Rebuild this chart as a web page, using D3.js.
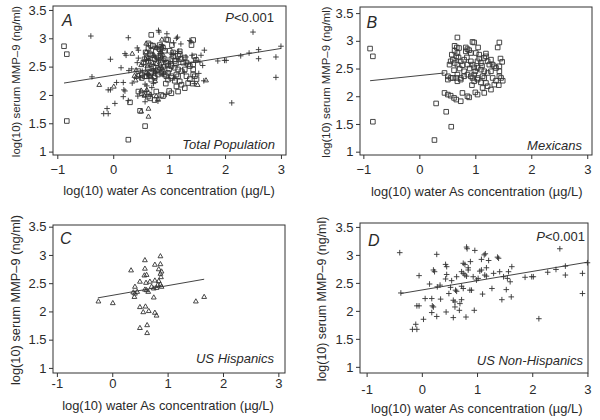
<!DOCTYPE html>
<html>
<head>
<meta charset="utf-8">
<script src="https://cdn.jsdelivr.net/npm/d3@7"></script>
<style>
  body { margin: 0; background: #fff; }
  text { font-family: "Liberation Sans", Arial, sans-serif; fill: #2a2a2a; }
</style>
</head>
<body>
<svg id="chart" width="600" height="420"></svg>
<script>
// values: [log10 water As, log10 serum MMP-9]
const mexicans = [
  [-0.88,2.86],[-0.83,2.72],[-0.83,1.54],[0.27,1.21],[0.30,1.87],[0.48,1.72],[0.57,1.45],
  [0.68,3.06],[0.95,2.98],[0.98,2.97],[1.43,2.97],[1.40,2.88],
  [0.63,2.91],[0.67,2.88],[0.71,2.87],[0.63,2.82],[0.68,2.78],[0.58,2.75],[0.66,2.72],[0.60,2.66],
  [0.83,2.88],[0.86,2.85],[0.83,2.81],[0.92,2.78],[0.89,2.83],
  [1.01,2.78],[1.07,2.75],[1.19,2.77],[1.19,2.72],[1.16,2.69],[1.07,2.68],[1.04,2.63],[1.10,2.60],
  [1.22,2.63],[1.25,2.57],[1.31,2.57],[1.34,2.54],[1.37,2.51],
  [0.54,2.57],[0.56,2.63],[0.63,2.60],[0.68,2.57],[0.74,2.63],[0.77,2.56],[0.80,2.66],[0.86,2.57],
  [0.92,2.63],[0.95,2.57],[0.98,2.52],[1.04,2.51],[1.10,2.48],[1.16,2.45],[1.22,2.42],[1.28,2.45],
  [0.45,2.42],[0.51,2.36],[0.56,2.33],[0.68,2.39],[0.74,2.33],[0.80,2.45],[0.86,2.39],[0.92,2.36],
  [0.98,2.39],[1.04,2.33],[1.13,2.36],[1.43,2.45],[1.31,2.33],[1.46,2.33],[1.43,2.54],
  [0.51,2.30],[0.60,2.33],[0.66,2.33],[0.68,2.27],[0.74,2.30],[0.80,2.36],[0.95,2.33],[0.98,2.27],
  [1.04,2.30],[1.10,2.25],[1.16,2.33],[1.19,2.24],[1.22,2.18],[1.28,2.12],[1.34,2.21],[1.37,2.28],
  [1.43,2.36],[1.49,2.28],[1.13,2.15],[1.16,2.06],
  [0.45,2.06],[0.51,2.03],[0.56,2.01],[0.62,1.97],[0.66,1.94],[0.74,1.91],[0.77,2.06],[0.89,1.98],
  [0.86,2.00],[1.00,2.07],[1.04,2.03],
  [0.90,2.50],[1.00,2.45],[0.85,2.70],[1.12,2.55],[0.72,2.50],[1.05,2.88],[1.45,2.68],[1.48,2.62],
  [1.42,2.20],[0.94,2.20],[0.70,2.70],[1.28,2.66],[0.62,2.47]
];
const usHispanics = [
  [-0.25,2.18],[0.01,2.15],[0.34,2.73],[0.59,2.91],[0.87,2.98],[0.59,2.76],[0.58,2.64],[0.62,2.65],
  [0.77,2.83],[0.87,2.84],[0.84,2.75],[0.89,2.71],[0.87,2.67],[0.88,2.61],[0.84,2.54],[0.87,2.48],
  [0.82,2.47],[0.89,2.44],[0.50,2.53],[0.61,2.51],[0.68,2.53],[0.77,2.55],[0.41,2.44],[0.38,2.34],
  [0.41,2.32],[0.45,2.35],[0.59,2.39],[0.62,2.38],[0.65,2.35],[0.75,2.41],[0.71,2.44],[0.80,2.42],
  [0.40,2.26],[0.75,2.25],[0.50,2.08],[0.60,2.09],[0.56,1.99],[0.66,2.01],[0.77,1.98],[0.80,1.93],
  [0.50,1.71],[0.63,1.76],[0.63,1.62],[1.51,2.18],[1.66,2.26]
];
const usNonHispanics = [
  [-0.40,3.04],[-0.38,2.32],[-0.05,2.63],[-0.09,2.09],[-0.05,2.09],[-0.11,1.76],[-0.17,1.67],
  [-0.09,1.67],[0.03,1.85],[0.06,2.22],[0.14,2.48],[0.18,2.22],[0.19,2.09],[0.21,2.07],[0.18,1.97],
  [0.27,1.90],[0.21,2.73],[0.23,2.70],[0.27,3.01],[0.28,2.43],[0.33,2.46],[0.34,2.21],[0.43,2.57],
  [0.45,2.65],[0.43,2.83],[0.45,2.79],[0.44,1.98],[0.49,2.31],[0.52,2.42],[0.54,2.54],[0.57,1.88],
  [0.57,2.19],[0.60,2.16],[0.60,2.07],[0.63,2.61],[0.61,2.37],[0.63,2.35],[0.68,2.01],[0.69,2.13],
  [0.72,2.20],[0.72,2.70],[0.75,2.67],[0.75,2.85],[0.78,2.83],[0.72,2.44],[0.75,2.40],[0.78,2.64],
  [0.81,2.62],[0.80,1.89],[0.81,3.14],[0.82,3.11],[0.84,2.73],[0.84,2.77],[0.87,2.37],[0.90,2.37],
  [0.88,2.88],[0.95,2.01],[0.93,2.61],[0.96,3.08],[0.99,2.55],[1.02,2.58],[1.05,2.71],[1.08,2.73],
  [1.08,2.92],[1.13,3.00],[1.15,3.02],[1.14,2.64],[1.17,2.62],[1.17,2.77],[1.21,2.90],[1.27,2.40],
  [1.10,2.30],[1.30,2.67],[1.37,2.96],[1.39,2.94],[1.41,2.70],[1.48,2.61],[1.55,2.58],[1.53,2.38],
  [1.45,2.20],[1.57,2.70],[1.62,2.25],[1.63,2.79],[1.60,2.52],[1.87,2.60],[1.99,2.61],[2.02,2.61],
  [2.12,1.86],[2.28,2.69],[2.43,2.74],[2.50,3.11],[2.60,2.80],[2.60,2.64],[2.91,2.67],[2.91,2.31],
  [3.00,2.86]
];

// fitted regression lines, end points
const fitA = [[-0.88,2.21],[3.00,2.82]];
const fitB = [[-0.88,2.28],[0.45,2.42]];
const fitC = [[-0.26,2.24],[1.66,2.57]];
const fitD = [[-0.38,2.31],[3.00,2.87]];

const xTicks = [-1, 0, 1, 2, 3];
const xTickLabelsTop = ["\u22121", "0", "1", "2", "3"];
const xTickLabelsBottom = ["-1", "0", "1", "2", "3"];
const yTicks = [1, 1.5, 2, 2.5, 3, 3.5];
const yTickLabels = ["1", "1.5", "2", "2.5", "3", "3.5"];

const xTitle = "log(10) water As concentration (\u00b5g/L)";
const yTitle = "log(10) serum MMP\u20139 (ng/ml)";

const svg = d3.select("#chart");

// marker shapes, drawn round (0,0)
const markerPath = {
  square: "M-2.3,-2.3h4.6v4.6h-4.6z",
  triangle: "M0,-2.5L2.4,1.7H-2.4Z",
  plus: "M-2.8,0H2.8M0,-2.8V2.8"
};

const panels = [
  { letter: "A", group: "Total Population", pval: true,
    x0: 53, x1: 286, y0: 6, y1: 155, xd: [-1.077, 3.09], yd: [0.94, 3.57],
    sets: [[usNonHispanics, "plus"], [usHispanics, "triangle"], [mexicans, "square"]],
    fit: fitA, xLabels: xTickLabelsTop, xlDy: 19, letterAt: [9, 20], pAt: [-12, 15.5], groupAt: [-11, -6.5],
    yTitleX: 19.5, yTitleSize: 11.4, xTitleY: 195, xTitleX: 169 },
  { letter: "B", group: "Mexicans", pval: false,
    x0: 360, x1: 592, y0: 7, y1: 155, xd: [-1.06, 3.085], yd: [0.94, 3.61],
    sets: [[mexicans, "square"]],
    fit: fitB, xLabels: xTickLabelsTop, xlDy: 19, letterAt: [6.5, 20.5], groupAt: [-10, -5.5],
    yTitleX: 329.5, yTitleSize: 11.4, xTitleY: 196, xTitleX: 476.7 },
  { letter: "C", group: "US Hispanics", pval: false,
    x0: 53, x1: 285, y0: 225, y1: 373, xd: [-1.07, 3.12], yd: [0.91, 3.53],
    sets: [[usHispanics, "triangle"]],
    fit: fitC, xLabels: xTickLabelsBottom, xlDy: 15, letterAt: [7, 18.5], groupAt: [-11, -10],
    yTitleX: 19.5, yTitleSize: 12.8, xTitleY: 409.5, xTitleX: 168 },
  { letter: "D", group: "US Non-Hispanics", pval: true,
    x0: 360, x1: 588, y0: 223, y1: 373, xd: [-1.12, 3.01], yd: [0.89, 3.57],
    sets: [[usNonHispanics, "plus"]],
    fit: fitD, xLabels: xTickLabelsBottom, xlDy: 21, letterAt: [8, 22.5], pAt: [-3, 17.5], groupAt: [-5, -8],
    yTitleX: 326, yTitleSize: 12.4, xTitleY: 412.5, xTitleX: 476.7 }
];

panels.forEach(p => {
  const x = d3.scaleLinear().domain(p.xd).range([p.x0, p.x1]);
  const y = d3.scaleLinear().domain(p.yd).range([p.y1, p.y0]);
  const g = svg.append("g");

  // frame
  g.append("rect")
    .attr("x", p.x0).attr("y", p.y0)
    .attr("width", p.x1 - p.x0).attr("height", p.y1 - p.y0)
    .attr("fill", "none").attr("stroke", "#333").attr("stroke-width", 1);

  // axes
  g.append("g")
    .attr("transform", `translate(0,${p.y1})`)
    .call(d3.axisBottom(x).tickValues(xTicks).tickSize(4).tickFormat((d, i) => p.xLabels[i]))
    .call(a => a.select(".domain").remove())
    .call(a => a.selectAll("line").attr("stroke", "#333"))
    .call(a => a.selectAll("text").attr("y", p.xlDy).attr("dy", 0)
      .style("font-size", "13px").style("font-family", '"Liberation Sans", Arial, sans-serif').attr("fill", "#2a2a2a"));

  g.append("g")
    .attr("transform", `translate(${p.x0},0)`)
    .call(d3.axisLeft(y).tickValues(yTicks).tickSize(4).tickFormat((d, i) => yTickLabels[i]))
    .call(a => a.select(".domain").remove())
    .call(a => a.selectAll("line").attr("stroke", "#333"))
    .call(a => a.selectAll("text").attr("x", -6.5)
      .style("font-size", "13px").style("font-family", '"Liberation Sans", Arial, sans-serif').attr("fill", "#2a2a2a"));

  // fitted line
  g.append("path")
    .datum(p.fit)
    .attr("fill", "none").attr("stroke", "#444").attr("stroke-width", 1)
    .attr("d", d3.line().x(d => x(d[0])).y(d => y(d[1])));

  // points
  p.sets.forEach(([data, shape]) => {
    g.append("g").selectAll("path")
      .data(data)
      .join("path")
      .attr("transform", d => `translate(${x(d[0])},${y(d[1])})`)
      .attr("d", markerPath[shape])
      .attr("fill", "none")
      .attr("stroke", "#333")
      .attr("stroke-width", 0.9);
  });

  // labels
  g.append("text")
    .attr("x", p.x0 + p.letterAt[0]).attr("y", p.y0 + p.letterAt[1])
    .style("font-size", "16px").style("font-style", "italic")
    .text(p.letter);

  if (p.pval) {
    const t = g.append("text")
      .attr("x", p.x1 + p.pAt[0]).attr("y", p.y0 + p.pAt[1])
      .attr("text-anchor", "end").style("font-size", "13px");
    t.append("tspan").style("font-style", "italic").text("P");
    t.append("tspan").text("<0.001");
  }

  g.append("text")
    .attr("x", p.x1 + p.groupAt[0]).attr("y", p.y1 + p.groupAt[1])
    .attr("text-anchor", "end")
    .style("font-size", "13px").style("font-style", "italic")
    .text(p.group);

  g.append("text")
    .attr("transform", `translate(${p.yTitleX},${(p.y0 + p.y1) / 2 + 1}) rotate(-90)`)
    .attr("text-anchor", "middle")
    .style("font-size", p.yTitleSize + "px")
    .text(yTitle);

  g.append("text")
    .attr("x", p.xTitleX).attr("y", p.xTitleY)
    .attr("text-anchor", "middle")
    .style("font-size", "12.9px")
    .text(xTitle);
});
</script>
</body>
</html>
